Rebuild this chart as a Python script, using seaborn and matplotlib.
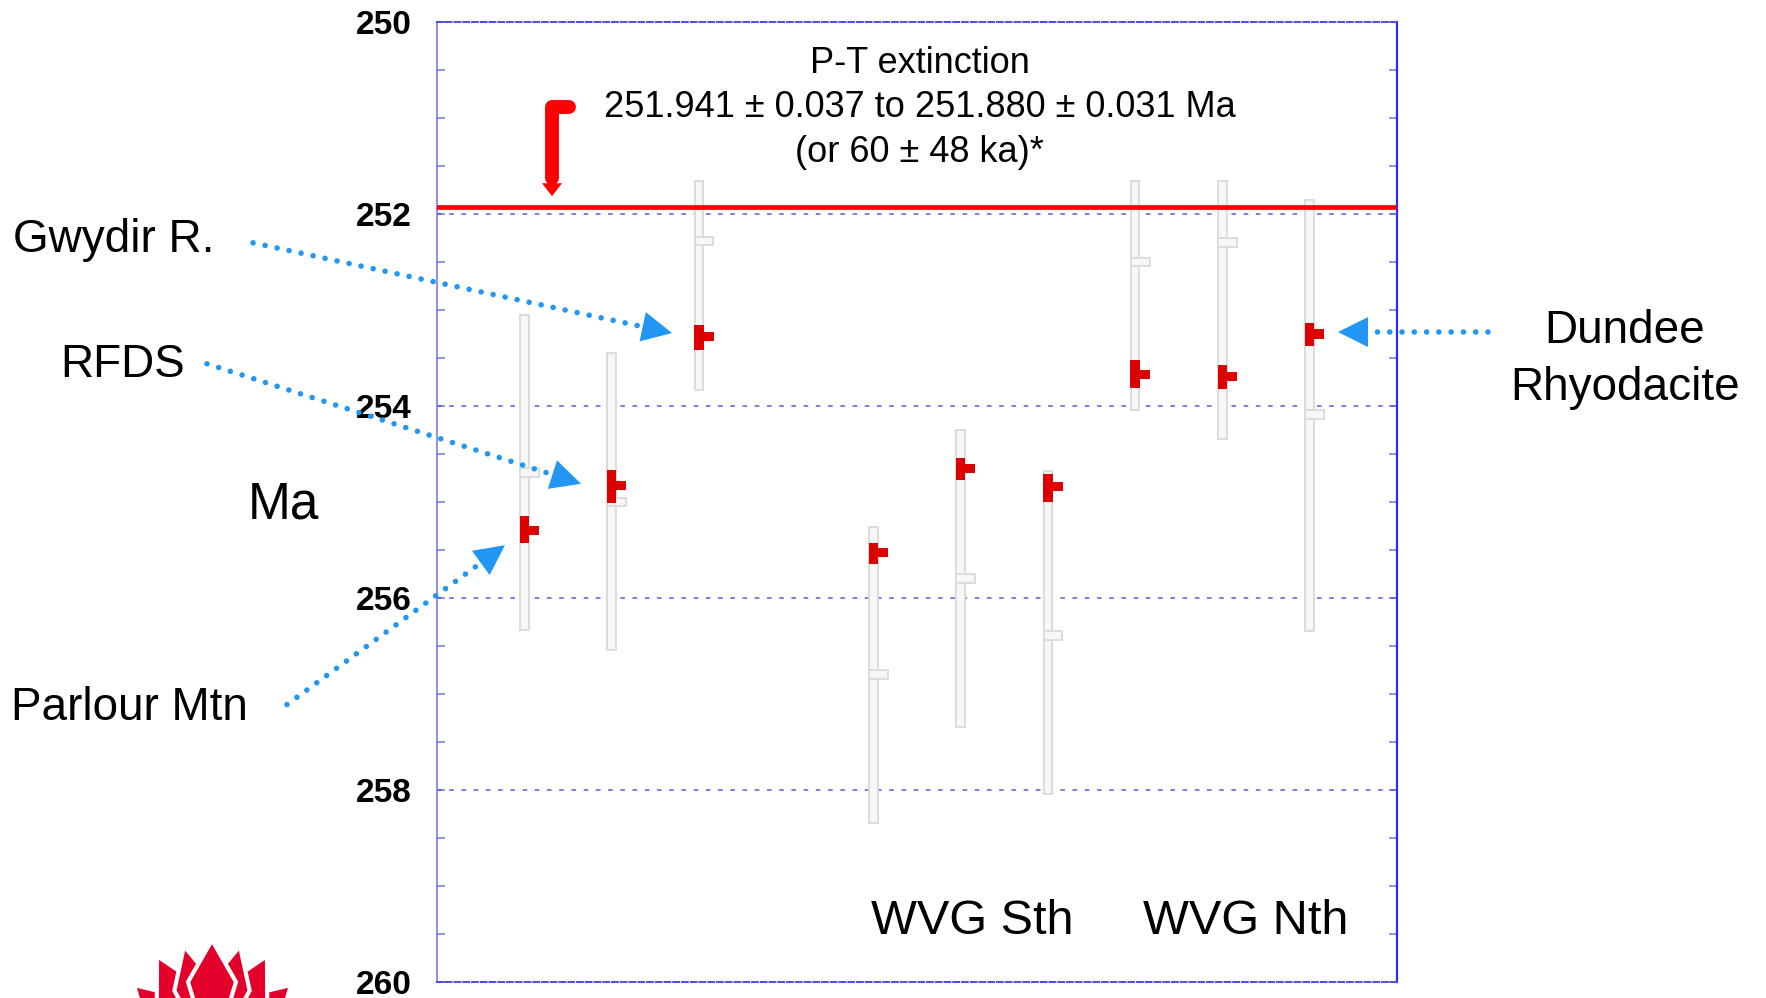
import matplotlib
matplotlib.use("Agg")
import matplotlib.pyplot as plt
import numpy as np
import pandas as pd
import seaborn as sns
from matplotlib.patches import Polygon
from matplotlib.ticker import MultipleLocator

sns.set_theme(style="white", rc={"text.color": "black", "axes.labelcolor": "black",
                                 "ytick.color": "black"})
plt.rcParams["font.family"] = ["Liberation Sans", "DejaVu Sans"]

# sample slots on the x axis (gaps split the three groups)
positions = [1, 2, 3, 5, 6, 7, 8, 9, 10]
# grey age ranges (Ma), visible part, with their centre mark
range_top = [253.05, 253.45, 251.66, 255.26, 254.25, 254.68, 251.66, 251.66, 251.85]
range_bottom = [256.33, 256.54, 253.83, 258.34, 257.34, 258.04, 254.04, 254.34, 256.34]
range_mark = [254.69, 255.00, 252.28, 256.80, 255.80, 256.39, 252.50, 252.30, 254.09]
# preferred ages and their uncertainty (Ma)
age = [255.30, 254.83, 253.28, 255.53, 254.65, 254.84, 253.67, 253.69, 253.25]
age_lo = [255.15, 254.67, 253.16, 255.43, 254.54, 254.71, 253.52, 253.57, 253.14]
age_hi = [255.43, 255.01, 253.42, 255.65, 254.77, 255.00, 253.81, 253.82, 253.38]
pt_boundary = 251.93
y_ticks = [250, 252, 254, 256, 258, 260]

df = pd.DataFrame(
    {
        "pos": positions,
        "top": range_top,
        "bottom": range_bottom,
        "mark": range_mark,
        "age": age,
        "lo": age_lo,
        "hi": age_hi,
    }
)

BLUE = "#2196f3"
RED = "#dd0000"
W, H = 1766, 998

fig = plt.figure(figsize=(W / 100, H / 100), dpi=100)
ax = fig.add_axes([437 / W, 1 - 982 / H, 960 / W, 960 / H])
ax.set_xlim(0, 11)
ax.set_ylim(260, 250)

# grey ranges + their centre tab
bw = 0.098
ax.bar(df["pos"], df["bottom"] - df["top"], bottom=df["top"], width=bw,
       color="#f7f7f7", edgecolor="#dcdcdc", lw=1.4, zorder=2)
ax.bar(df["pos"] - bw / 2, 0.09, bottom=df["mark"] - 0.045, width=0.215,
       align="edge", color="#f7f7f7", edgecolor="#dcdcdc", lw=1.4, zorder=2.1)
# red ages: uncertainty bar plus flag at the age
rw = 0.108
ax.bar(df["pos"], df["hi"] - df["lo"], bottom=df["lo"], width=rw,
       color=RED, lw=0, zorder=4)
ax.bar(df["pos"] + rw / 2, 0.095, bottom=df["age"] - 0.0475, width=0.115,
       align="edge", color=RED, lw=0, zorder=4)

ax.axhline(pt_boundary, color="#ff0000", lw=3.4, zorder=5)
for y in y_ticks[1:-1]:
    ax.axhline(y, color="#5858e0", lw=1.1, ls=(0, (3, 5)), zorder=1)

# axes styling
ax.set_xticks([])
ax.set_yticks(y_ticks)
ax.yaxis.set_minor_locator(MultipleLocator(0.5))
ax.tick_params(axis="y", which="both", direction="in", length=6, width=1.1,
               color="#7474e6", labelcolor="black", left=True, right=True,
               labelsize=24, pad=18.5)
for lbl in ax.get_yticklabels():
    lbl.set_fontweight("bold")
ax.spines["left"].set(color="#7070e0", lw=1.1)
ax.spines["right"].set(color="#2a2af0", lw=1.6)
for s in ("top", "bottom"):
    ax.spines[s].set(color="#4a4ae6", lw=1.4, ls=(0, (3, 1.5)))

ax.set_ylabel("Ma", rotation=0, fontsize=37, color="black")
ax.yaxis.label.set(ha="center", va="center")
ax.yaxis.set_label_coords(-0.160, 0.497)

# texts
big = 33
ax.text(-4.858, 252.396, "Gwydir R.", fontsize=big, ha="left", va="baseline")
ax.text(-4.32, 253.70, "RFDS", fontsize=big, ha="left", va="baseline")
ax.text(-4.88, 257.27, "Parlour Mtn", fontsize=big, ha="left", va="baseline")
ax.text(13.61, 253.344, "Dundee", fontsize=big, ha="center", va="baseline")
ax.text(13.61, 253.94, "Rhyodacite", fontsize=big, ha="center", va="baseline")
ax.text(6.13, 259.50, "WVG Sth", fontsize=35, ha="center", va="baseline")
ax.text(9.264, 259.50, "WVG Nth", fontsize=35, ha="center", va="baseline")
pt_lines = ["P-T extinction",
            "251.941 ± 0.037 to 251.880 ± 0.031 Ma",
            "(or 60 ± 48 ka)*"]
for txt, yb in zip(pt_lines, [250.53, 250.99, 251.455]):
    ax.text(5.53, yb, txt, fontsize=26, ha="center", va="baseline", zorder=7)


def to_fig(p):
    return np.asarray(p) / [fig.bbox.width, fig.bbox.height]


def pointer(start, tip, head=30):
    s = ax.transData.transform(start)
    t = ax.transData.transform(tip)
    u = (t - s) / np.hypot(*(t - s))
    n = np.array([-u[1], u[0]])
    base = t - u * head
    b = ax.transData.inverted().transform(base)
    ax.plot([start[0], b[0]], [start[1], b[1]], color=BLUE, lw=4,
            ls=(0, (0.01, 2.2)), dash_capstyle="round", clip_on=False, zorder=6)
    verts = [t, base + n * head / 2, base - n * head / 2]
    fig.add_artist(Polygon(to_fig(verts), closed=True, transform=fig.transFigure,
                           color=BLUE, lw=0, zorder=6))


pointer((-2.108, 252.30), (2.693, 253.24))
pointer((-2.636, 253.56), (1.650, 254.81))
pointer((-1.719, 257.11), (0.779, 255.45))
pointer((12.043, 253.23), (10.324, 253.23))

# red bent arrow onto the P-T line
ax.plot([1.51, 1.318, 1.318], [250.89, 250.89, 251.62], color="#ff0000", lw=10,
        solid_joinstyle="round", solid_capstyle="round", zorder=6)
bx, by = ax.transData.transform((1.318, 251.69))
fig.add_artist(Polygon(to_fig([(bx - 10, by + 1), (bx + 10, by + 1), (bx, by - 12)]),
                       closed=True, transform=fig.transFigure, color="#ff0000",
                       lw=0, zorder=6))

# waratah logo, bottom left (cropped by the page edge)
petals = [((134, 985), 22), ((291, 985), 22), ((157, 956), 22), ((267, 956), 22),
          ((184, 946), 20), ((240, 946), 20), ((212, 940), 24)]
root = np.array([212.0, 1060.0])
for tip, w in petals:
    tip = np.array(tip, dtype=float)
    d = tip - root
    n = np.array([-d[1], d[0]]) / np.hypot(*d)
    mid = root + 0.65 * d
    pts = np.array([root, mid + n * w, tip, mid - n * w])
    pts = np.column_stack([pts[:, 0] / W, 1 - pts[:, 1] / H])
    fig.add_artist(Polygon(pts, closed=True, transform=fig.transFigure,
                           facecolor="#e4002b", edgecolor="white", lw=3))

fig.savefig("out.png", dpi=100)
